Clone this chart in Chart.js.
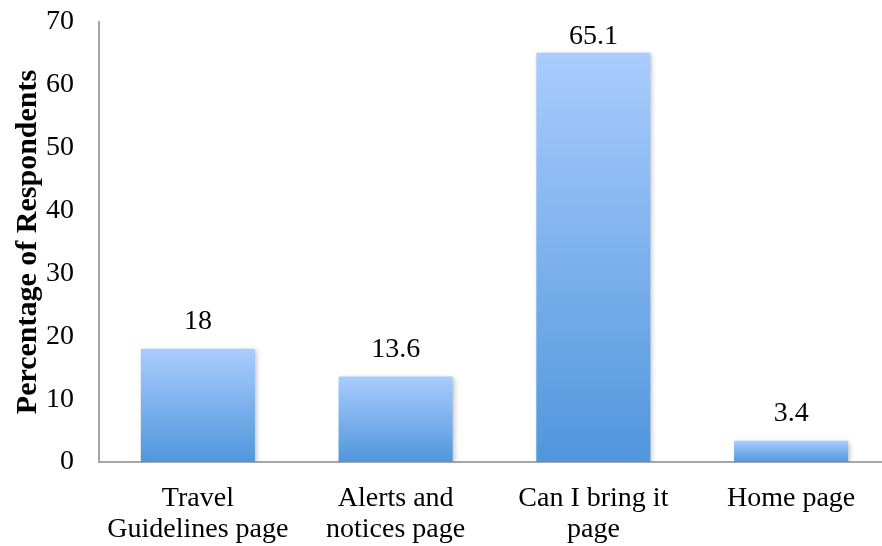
<!DOCTYPE html>
<html>
<head>
<meta charset="utf-8">
<script src="https://cdn.jsdelivr.net/npm/chart.js@4.4.0/dist/chart.umd.min.js"></script>
<style>
  html, body { margin: 0; padding: 0; background: #fff; }
  #wrap { width: 882px; height: 546px; overflow: hidden; }
</style>
</head>
<body>
<div id="wrap"><canvas id="pages-chart" width="890" height="546"></canvas></div>
<script>
const pages = [["Travel", "Guidelines page"], ["Alerts and", "notices page"], ["Can I bring it", "page"], ["Home page"]];
const percents = [18, 13.6, 65.1, 3.4];
const yTicks = [0, 10, 20, 30, 40, 50, 60, 70];

const serif = "'Liberation Serif', 'DejaVu Serif', serif";
const fontSize = 28;

// vertical blue gradient, light at the top of each bar, darker at its base
function barFill(context) {
  const chart = context.chart;
  if (!chart.chartArea || context.dataIndex === undefined) return "#7aaee8";
  const y = chart.scales.y;
  const top = y.getPixelForValue(context.raw);
  const bottom = y.getPixelForValue(0);
  const g = chart.ctx.createLinearGradient(0, top, 0, bottom);
  g.addColorStop(0, "#a9ccfd");
  g.addColorStop(1, "#5096dc");
  return g;
}

// soft drop shadow under the bars
const barShadow = {
  id: "barShadow",
  beforeDatasetDraw(chart) {
    const ctx = chart.ctx;
    ctx.save();
    ctx.shadowColor = "rgba(0,0,0,0.25)";
    ctx.shadowBlur = 5;
    ctx.shadowOffsetX = 2;
    ctx.shadowOffsetY = 1;
  },
  afterDatasetDraw(chart) {
    chart.ctx.restore();
  }
};

// value labels above each bar
const valueLabels = {
  id: "valueLabels",
  afterDatasetsDraw(chart) {
    const ctx = chart.ctx;
    const meta = chart.getDatasetMeta(0);
    ctx.save();
    ctx.font = fontSize + "px " + serif;
    ctx.fillStyle = "#000";
    ctx.textAlign = "center";
    ctx.textBaseline = "middle";
    meta.data.forEach(function (bar, i) {
      const y = Math.max(bar.y - 27, chart.chartArea.top + 15);
      ctx.fillText(String(percents[i]), bar.x, y);
    });
    ctx.restore();
  }
};

const config = {
  type: "bar",
  data: {
    labels: pages,
    datasets: [{
      data: percents,
      backgroundColor: barFill,
      borderWidth: 0,
      categoryPercentage: 1,
      barPercentage: 0.577
    }]
  },
  options: {
    responsive: false,
    animation: false,
    layout: { padding: { top: 22, right: 0, left: 0, bottom: 0 } },
    scales: {
      x: {
        grid: { display: false, drawTicks: false },
        border: { color: "#a6a6a6", width: 2 },
        ticks: {
          color: "#000",
          padding: 22,
          maxRotation: 0,
          autoSkip: false,
          font: { family: serif, size: fontSize, lineHeight: 1.08 }
        },
        afterFit: function (scale) { scale.height = 84; }
      },
      y: {
        min: 0,
        max: 70,
        afterBuildTicks: function (scale) {
          scale.ticks = yTicks.map(function (v) { return { value: v }; });
        },
        grid: { display: false, drawTicks: false },
        border: { color: "#a6a6a6", width: 2 },
        ticks: {
          color: "#000",
          padding: 25,
          font: { family: serif, size: fontSize }
        },
        title: {
          display: true,
          text: "Percentage of Respondents",
          color: "#000",
          padding: { top: 10, bottom: 0 },
          font: { family: serif, size: 30, weight: "bold" }
        },
        afterFit: function (scale) {
          scale.width = 99;
          scale.paddingTop = 0;
          scale.paddingBottom = 0;
        }
      }
    },
    plugins: {
      legend: { display: false },
      tooltip: { enabled: false }
    }
  },
  plugins: [barShadow, valueLabels]
};

new Chart(document.getElementById("pages-chart"), config);
</script>
</body>
</html>
